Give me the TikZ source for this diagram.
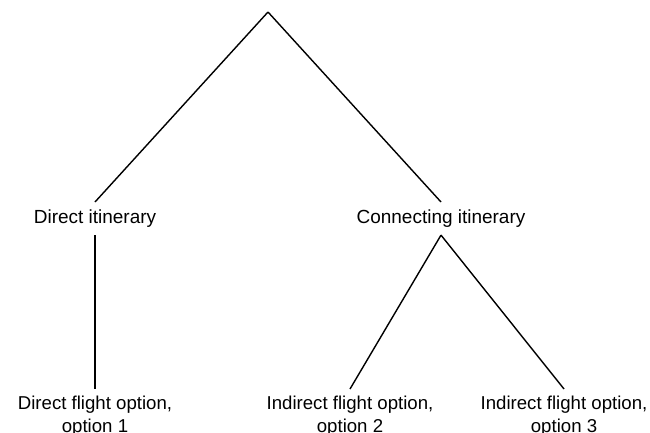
\documentclass[tikz,border=0pt]{standalone}
\usepackage{fontspec}
\setmainfont{Liberation Sans}

\begin{document}
\begin{tikzpicture}[
    itin/.style={anchor=north, inner sep=0.7mm, font=\fontsize{5.4}{6.4}\selectfont},
    flight/.style={anchor=north, inner sep=0.6mm, align=center, font=\fontsize{5.3}{6.5}\selectfont},
    rama/.style={black, thin}
  ]
    % Marco
    \useasboundingbox (0,0) rectangle (6.5,4.32);

    % Raiz
    \coordinate (root) at (2.68, 4.20);

    % Itinerarios
    \node[itin] (direct) at (0.95, 2.30) {Direct itinerary};
    \node[itin] (conn) at (4.41, 2.30) {Connecting itinerary};

    % Opciones de vuelo
    \node[flight] (opt1) at (0.95, 0.43) {Direct flight option,\\ option 1};
    \node[flight] (opt2) at (3.50, 0.43) {Indirect flight option,\\ option 2};
    \node[flight] (opt3) at (5.64, 0.43) {Indirect flight option,\\ option 3};

    % Ramas
    \draw[rama] (root) -- (direct.north);
    \draw[rama] (root) -- (conn.north);
    \draw[rama] (direct.south) -- (opt1.north);
    \draw[rama] (conn.south) -- (opt2.north);
    \draw[rama] (conn.south) -- (opt3.north);
\end{tikzpicture}
\end{document}
